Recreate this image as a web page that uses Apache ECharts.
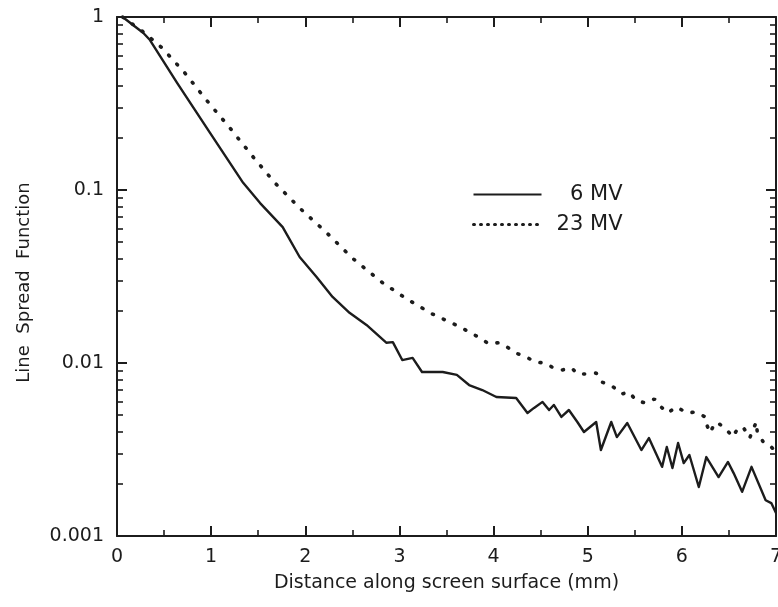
<!DOCTYPE html>
<html>
<head>
<meta charset="utf-8">
<script src="https://cdn.jsdelivr.net/npm/echarts@6/dist/echarts.min.js"></script>
<style>
html,body{margin:0;padding:0;background:#fff;}
#chart{width:778px;height:607px;}
</style>
</head>
<body>
<div id="chart"></div>
<script>
// ---- data ----
const seriesNames = ['6 MV', '23 MV'];
const xTickLabels = ['0', '1', '2', '3', '4', '5', '6', '7'];
const yTickLabels = ['0.001', '0.01', '0.1', '1'];
const yMinorTicks = [0.002,0.003,0.004,0.005,0.006,0.007,0.008,0.009,
                     0.02,0.03,0.04,0.05,0.06,0.07,0.08,0.09,
                     0.2,0.3,0.4,0.5,0.6,0.7,0.8,0.9];

const x6 = [0.06,0.28,0.35,0.64,0.99,1.34,1.52,1.76,1.94,2.12,2.29,2.47,2.65,2.86,2.93,3.03,3.14,3.24,3.46,3.61,3.74,3.88,4.03,4.24,4.36,4.43,4.52,4.59,4.64,4.72,4.80,4.89,4.96,5.09,5.14,5.25,5.31,5.42,5.57,5.65,5.79,5.84,5.90,5.96,6.02,6.08,6.18,6.26,6.39,6.49,6.55,6.64,6.74,6.89,6.95,7.00];
const y6 = [1.0,0.808,0.736,0.415,0.213,0.110,0.084,0.061,0.041,0.0314,0.0241,0.0195,0.0166,0.0131,0.0132,0.0104,0.0107,0.00887,0.00887,0.00853,0.00746,0.00698,0.00636,0.00628,0.00514,0.00550,0.00596,0.00535,0.00572,0.00488,0.00535,0.00456,0.00399,0.00456,0.00314,0.00456,0.00373,0.00450,0.00314,0.00368,0.00251,0.00327,0.00247,0.00345,0.00264,0.00294,0.00192,0.00286,0.00219,0.00268,0.00231,0.00180,0.00251,0.00161,0.00155,0.00136];

const x23 = [0.06,0.28,0.48,0.72,0.95,1.20,1.43,1.67,1.94,2.23,2.50,2.81,3.08,3.35,3.64,3.85,3.95,4.05,4.14,4.24,4.35,4.45,4.55,4.62,4.73,4.83,4.89,4.99,5.09,5.15,5.26,5.36,5.44,5.51,5.61,5.71,5.78,5.85,5.94,6.06,6.14,6.25,6.27,6.30,6.33,6.37,6.47,6.54,6.59,6.65,6.72,6.79,6.80,6.87,6.95,7.00];
const y23 = [1.0,0.819,0.662,0.475,0.331,0.228,0.159,0.111,0.0787,0.0564,0.0404,0.0294,0.0234,0.0192,0.0162,0.0140,0.0129,0.0131,0.0124,0.0114,0.0108,0.0101,0.0100,0.00948,0.00912,0.00936,0.00864,0.00864,0.00875,0.00776,0.00736,0.00662,0.00680,0.00611,0.00587,0.00619,0.00557,0.00514,0.00557,0.00514,0.00521,0.00488,0.00432,0.00394,0.00427,0.00456,0.00415,0.00373,0.00415,0.00427,0.00368,0.00456,0.00404,0.00345,0.00327,0.00306];

// ---- chart ----
const ink = '#1c1c1c';
const font = 'DejaVu Sans';
const chart = echarts.init(document.getElementById('chart'), null, {renderer: 'canvas'});

function pairs(xs, ys) { return xs.map((x, i) => [x, ys[i]]); }

// major log axis (decade ticks + labels)
function yMajor(position, showLabel) {
  return {
    type: 'log', logBase: 10, min: 0.001, max: 1, position: position,
    axisLine: {show: true, onZero: false, lineStyle: {color: ink, width: 2}},
    axisTick: {show: true, inside: true, length: 10, lineStyle: {color: ink, width: 2}},
    axisLabel: showLabel ? {
      show: true, color: ink, fontFamily: font, fontSize: 19, margin: 13,
      formatter: v => yTickLabels[Math.round(Math.log10(v)) + 3]
    } : {show: false},
    splitLine: {show: false},
    name: showLabel ? 'Line  Spread  Function' : '',
    nameLocation: 'middle', nameGap: 84,
    nameTextStyle: {color: ink, fontFamily: font, fontSize: 18, padding: [0, 12, 0, 0]}
  };
}
// minor ticks: linear axis over log10 range, ticks at log10 of minor values
function yMinor(position) {
  return {
    type: 'value', min: -3, max: 0, position: position,
    axisLine: {show: false, onZero: false},
    axisTick: {show: true, inside: true, length: 6, customValues: yMinorTicks.map(v => Math.log10(v)),
               lineStyle: {color: ink, width: 1.6}},
    axisLabel: {show: false},
    splitLine: {show: false}
  };
}

function xAx(position, showLabel) {
  return {
    type: 'value', min: 0, max: 7, interval: 1, position: position,
    axisLine: {show: true, onZero: false, lineStyle: {color: ink, width: 2}},
    axisTick: {show: true, inside: true, length: 10, lineStyle: {color: ink, width: 2}},
    minorTick: {show: true, splitNumber: 2, length: 6, lineStyle: {color: ink, width: 1.6}},
    axisLabel: showLabel ? {
      show: true, color: ink, fontFamily: font, fontSize: 19, margin: 12,
      formatter: v => xTickLabels[Math.round(v)]
    } : {show: false},
    splitLine: {show: false},
    minorSplitLine: {show: false},
    name: showLabel ? 'Distance along screen surface (mm)' : '',
    nameLocation: 'middle', nameGap: 38,
    nameTextStyle: {color: ink, fontFamily: font, fontSize: 19}
  };
}

chart.setOption({
  animation: false,
  backgroundColor: '#fff',
  grid: {left: 117, right: 2, top: 17, bottom: 71, containLabel: false, outerBoundsMode: 'none'},
  xAxis: [xAx('bottom', true), xAx('top', false)],
  yAxis: [yMajor('left', true), yMinor('left'), yMajor('right', false), yMinor('right')],
  legend: {
    left: 467, top: 179, orient: 'vertical',
    itemWidth: 68, itemHeight: 14, itemGap: 9,
    itemStyle: {opacity: 0},
    data: [
      {name: seriesNames[0]},
      {name: seriesNames[1], lineStyle: {type: [1, 6], width: 3, cap: 'round'}}
    ],
    formatter: name => '{a|' + name + '}',
    textStyle: {
      color: ink, fontFamily: font, fontSize: 21,
      rich: {a: {width: 76, align: 'right', fontSize: 21, fontFamily: font, color: ink, lineHeight: 22}}
    }
  },
  series: [
    {
      name: seriesNames[0], type: 'line', xAxisIndex: 0, yAxisIndex: 0,
      data: pairs(x6, y6), showSymbol: false, symbol: 'none',
      lineStyle: {color: ink, width: 2.4, join: 'round'},
      itemStyle: {color: ink}
    },
    {
      name: seriesNames[1], type: 'line', xAxisIndex: 0, yAxisIndex: 0,
      data: pairs(x23, y23), showSymbol: false, symbol: 'none',
      lineStyle: {color: ink, width: 3.6, type: [1, 11], cap: 'round'},
      itemStyle: {color: ink}
    }
  ]
});
</script>
</body>
</html>
